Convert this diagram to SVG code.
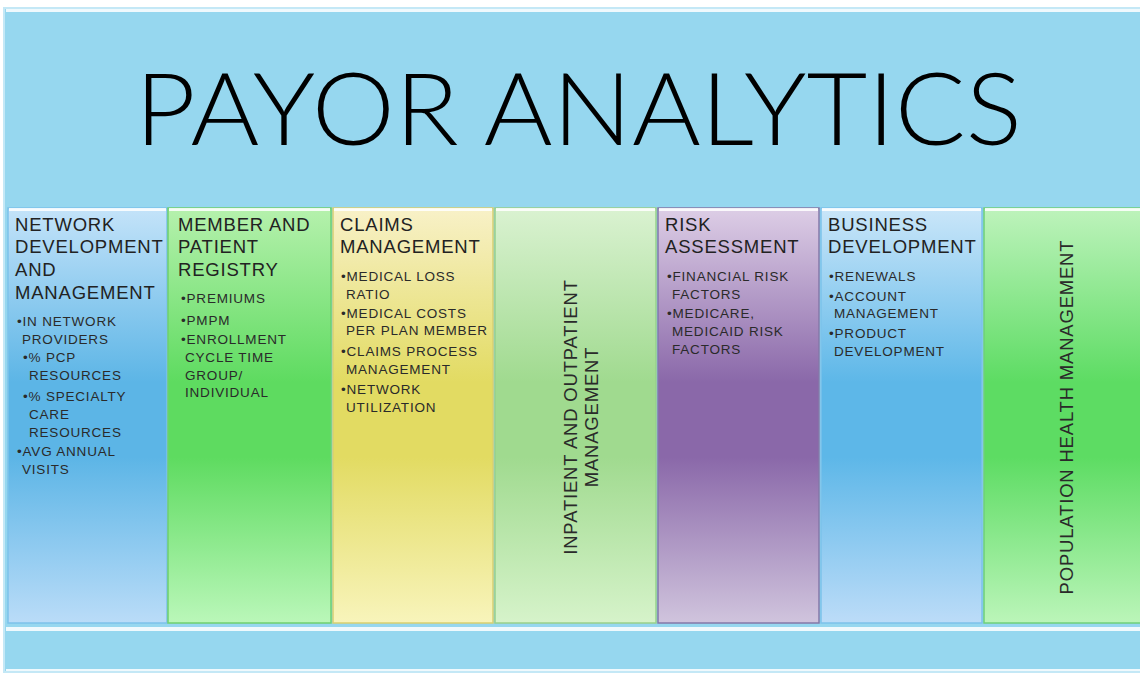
<svg xmlns="http://www.w3.org/2000/svg" width="1140" height="673" viewBox="0 0 1140 673">
<defs>
<linearGradient id="gBlue" x1="0" y1="0" x2="0" y2="1"><stop offset="0" stop-color="#c4e3f9"/><stop offset="0.42" stop-color="#5cb5e6"/><stop offset="0.6" stop-color="#5cb5e6"/><stop offset="1" stop-color="#badcf8"/></linearGradient>
<linearGradient id="gGreen" x1="0" y1="0" x2="0" y2="1"><stop offset="0" stop-color="#b6f1ad"/><stop offset="0.42" stop-color="#5edb60"/><stop offset="0.6" stop-color="#5edb60"/><stop offset="1" stop-color="#baf7b9"/></linearGradient>
<linearGradient id="gYellow" x1="0" y1="0" x2="0" y2="1"><stop offset="0" stop-color="#f8f1c8"/><stop offset="0.42" stop-color="#e2db62"/><stop offset="0.6" stop-color="#e2db62"/><stop offset="1" stop-color="#f8f4bb"/></linearGradient>
<linearGradient id="gPale" x1="0" y1="0" x2="0" y2="1"><stop offset="0" stop-color="#daf2d1"/><stop offset="0.42" stop-color="#a0da8f"/><stop offset="0.6" stop-color="#a0da8f"/><stop offset="1" stop-color="#d6f3ca"/></linearGradient>
<linearGradient id="gPurple" x1="0" y1="0" x2="0" y2="1"><stop offset="0" stop-color="#ddcee6"/><stop offset="0.42" stop-color="#8a68a9"/><stop offset="0.6" stop-color="#8a68a9"/><stop offset="1" stop-color="#d0c4dd"/></linearGradient>
<linearGradient id="gBlue2" x1="0" y1="0" x2="0" y2="1"><stop offset="0" stop-color="#cae6f9"/><stop offset="0.42" stop-color="#5db7e8"/><stop offset="0.6" stop-color="#5db7e8"/><stop offset="1" stop-color="#bcdcf8"/></linearGradient>
<linearGradient id="gGreen2" x1="0" y1="0" x2="0" y2="1"><stop offset="0" stop-color="#bef3bc"/><stop offset="0.42" stop-color="#5ddc63"/><stop offset="0.6" stop-color="#5ddc63"/><stop offset="1" stop-color="#bbf5b9"/></linearGradient>
</defs>
<style>
.head{font-family:"Liberation Sans",Arial,sans-serif;font-size:18.5px;fill:#222;letter-spacing:0.8px}
.bul{font-family:"Liberation Sans",Arial,sans-serif;font-size:13.5px;fill:#2a2a2a;letter-spacing:0.8px}
.vert{font-family:"Liberation Sans",Arial,sans-serif;font-size:18.5px;fill:#2a2a2a;letter-spacing:0.8px;text-anchor:middle}
.title{font-family:Lato,"Liberation Sans",sans-serif;font-weight:300;font-size:101px;fill:#000}
.hl{fill:#ffffff;opacity:0.85}
</style>
<rect x="0" y="0" width="1140" height="673" fill="#ffffff"/>
<rect x="4" y="8" width="1140" height="664" fill="#96d7ef" stroke="#c4e8f6" stroke-width="2"/>
<rect x="6" y="9" width="1134" height="3" class="hl"/>
<g id="title">
<text class="title" x="135" y="145" textLength="887" lengthAdjust="spacingAndGlyphs">PAYOR ANALYTICS</text>
</g>
<g id="col-network">
<rect x="8" y="208" width="159" height="415" fill="url(#gBlue)" stroke="#7cc2ea" stroke-width="1.5"/>
<rect x="9" y="208" width="157" height="3" class="hl"/>
<text class="head"><tspan x="15" y="231">NETWORK</tspan><tspan x="15" y="253">DEVELOPMENT</tspan><tspan x="15" y="276">AND</tspan><tspan x="15" y="299">MANAGEMENT</tspan></text>
<text class="bul"><tspan x="17" y="326">•IN NETWORK</tspan><tspan x="22" y="344">PROVIDERS</tspan><tspan x="23" y="362">•% PCP</tspan><tspan x="29" y="380">RESOURCES</tspan><tspan x="23" y="401">•% SPECIALTY</tspan><tspan x="29" y="419">CARE</tspan><tspan x="29" y="437">RESOURCES</tspan><tspan x="17" y="456">•AVG ANNUAL</tspan><tspan x="22" y="474">VISITS</tspan></text>
</g>
<g id="col-member">
<rect x="168" y="208" width="163" height="415" fill="url(#gGreen)" stroke="#6fd06f" stroke-width="1.5"/>
<rect x="169" y="208" width="161" height="3" class="hl"/>
<text class="head"><tspan x="178" y="231">MEMBER AND</tspan><tspan x="178" y="253">PATIENT</tspan><tspan x="178" y="276">REGISTRY</tspan></text>
<text class="bul"><tspan x="181" y="303">•PREMIUMS</tspan><tspan x="181" y="325">•PMPM</tspan><tspan x="181" y="344">•ENROLLMENT</tspan><tspan x="185" y="362">CYCLE TIME</tspan><tspan x="185" y="380">GROUP/</tspan><tspan x="185" y="397">INDIVIDUAL</tspan></text>
</g>
<g id="col-claims">
<rect x="333" y="208" width="160" height="415" fill="url(#gYellow)" stroke="#d8d070" stroke-width="1.5"/>
<rect x="334" y="208" width="158" height="3" class="hl"/>
<text class="head"><tspan x="340" y="231">CLAIMS</tspan><tspan x="340" y="253">MANAGEMENT</tspan></text>
<text class="bul"><tspan x="341" y="281">•MEDICAL LOSS</tspan><tspan x="346" y="299">RATIO</tspan><tspan x="341" y="318">•MEDICAL COSTS</tspan><tspan x="346" y="335">PER PLAN MEMBER</tspan><tspan x="341" y="356">•CLAIMS PROCESS</tspan><tspan x="346" y="374">MANAGEMENT</tspan><tspan x="341" y="394">•NETWORK</tspan><tspan x="346" y="412">UTILIZATION</tspan></text>
</g>
<g id="col-inpatient">
<rect x="495" y="208" width="161" height="415" fill="url(#gPale)" stroke="#98d08a" stroke-width="1.5"/>
<rect x="496" y="208" width="159" height="3" class="hl"/>
<text class="vert" transform="translate(577,417) rotate(-90)"><tspan x="0" y="0">INPATIENT AND OUTPATIENT</tspan><tspan x="0" y="21">MANAGEMENT</tspan></text>
</g>
<g id="col-risk">
<rect x="658" y="208" width="161" height="415" fill="url(#gPurple)" stroke="#8478a8" stroke-width="1.5"/>
<rect x="659" y="208" width="159" height="3" class="hl"/>
<text class="head"><tspan x="665" y="231">RISK</tspan><tspan x="665" y="253">ASSESSMENT</tspan></text>
<text class="bul"><tspan x="667" y="281">•FINANCIAL RISK</tspan><tspan x="672" y="299">FACTORS</tspan><tspan x="667" y="318">•MEDICARE,</tspan><tspan x="672" y="336">MEDICAID RISK</tspan><tspan x="672" y="354">FACTORS</tspan></text>
</g>
<g id="col-business">
<rect x="821" y="208" width="161" height="415" fill="url(#gBlue2)" stroke="#7cc2ea" stroke-width="1.5"/>
<rect x="822" y="208" width="159" height="3" class="hl"/>
<text class="head"><tspan x="828" y="231">BUSINESS</tspan><tspan x="828" y="253">DEVELOPMENT</tspan></text>
<text class="bul"><tspan x="829" y="281">•RENEWALS</tspan><tspan x="829" y="301">•ACCOUNT</tspan><tspan x="834" y="318">MANAGEMENT</tspan><tspan x="829" y="338">•PRODUCT</tspan><tspan x="834" y="356">DEVELOPMENT</tspan></text>
</g>
<g id="col-population">
<rect x="984" y="208" width="160" height="415" fill="url(#gGreen2)" stroke="#6fd07a" stroke-width="1.5"/>
<rect x="985" y="208" width="158" height="3" class="hl"/>
<text class="vert" transform="translate(1073,417) rotate(-90)" x="0" y="0">POPULATION HEALTH MANAGEMENT</text>
</g>
<g id="bottom-bar">
<rect x="6" y="627" width="1134" height="4" class="hl"/>
<rect x="6" y="669" width="1134" height="2" class="hl"/>
</g>
<g id="connectors"/>
</svg>
